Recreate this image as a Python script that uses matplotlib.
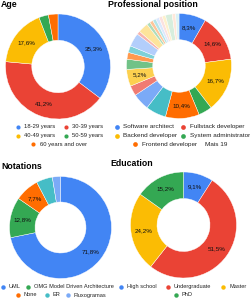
import matplotlib
matplotlib.use('Agg')
import matplotlib.pyplot as plt

plt.rcParams['font.family'] = ['Liberation Sans', 'DejaVu Sans']

# ---------------- data ----------------
age_labels = ['18-29 years', '30-39 years', '40-49 years', '50-59 years', '60 years and over']
age_counts = [12, 14, 6, 1, 1]
age_colors = ['#4285F4', '#EA4335', '#FBBC04', '#34A853', '#FF6D01']

prof_labels = ['Software architect', 'Fullstack developer', 'Backend developer',
               'System administrator', 'Frontend developer'] + [f'Outro {i}' for i in range(1, 20)]
prof_counts = [8, 14, 16, 4, 10, 6, 5, 3, 5, 3, 2, 2, 4, 1, 3, 1, 1, 1, 1, 1, 1, 2, 1, 1]
prof_colors = ['#4285F4', '#EA4335', '#FBBC04', '#34A853', '#FF6D01', '#46BDC6',
               '#7BAAF7', '#F07B72', '#FCD04F', '#71C287', '#FF994D', '#7ED1D7',
               '#B3CEFB', '#F7B4AE', '#FDE49B', '#AEDCBA', '#FFC599', '#B5E5E8',
               '#DCE8FD', '#FBE1DF', '#FEF1CD', '#D7EEDD', '#FFE8D9', '#DAF2F4']
prof_more = 'Mais 19'

not_labels = ['UML', 'OMG Model Driven Architecture', 'None', 'ER', 'Fluxogramas']
not_counts = [28, 5, 3, 2, 1]
not_colors = ['#4285F4', '#34A853', '#FF6D01', '#46BDC6', '#7BAAF7']

edu_labels = ['High school', 'Undergraduate', 'Master', 'PhD']
edu_counts = [3, 17, 8, 5]
edu_colors = ['#4285F4', '#EA4335', '#FBBC04', '#34A853']

# ---------------- figure ----------------
W, H = 250, 299
fig = plt.figure(figsize=(W / 100, H / 100), dpi=100)
ax = fig.add_axes([0, 0, 1, 1])


def donut(counts, colors, cx, cy, r, shown):
    idx = {'i': 0}

    def fmt(p):
        i = idx['i']
        idx['i'] += 1
        if i in shown:
            return f'{p:.1f}'.replace('.', ',') + '%'
        return ''

    ax.pie(counts, colors=colors, center=(cx, H - cy), radius=r,
           startangle=90, counterclock=False,
           wedgeprops=dict(width=r * 0.5, edgecolor='white', linewidth=0.3),
           autopct=fmt, pctdistance=0.76,
           textprops=dict(fontsize=4.5, color='#111111'))


def title(x, y, s):
    ax.text(x, H - y, s, fontsize=6.3, fontweight='bold', color='#000000',
            ha='left', va='baseline')


def legend_item(mx, y, tx, s, color, fs, ms):
    if color is not None:
        ax.plot([mx], [H - y], marker='o', markersize=ms, color=color,
                markeredgewidth=0, linestyle='none')
    ax.text(tx, H - y, s, fontsize=fs, color='#222222', ha='left', va='center')


donut(age_counts, age_colors, 58, 66.5, 52.5, {0, 1, 2})
donut(prof_counts, prof_colors, 179, 66, 52.5, {0, 1, 2, 4, 8})
donut(not_counts, not_colors, 60.5, 227.5, 51, {0, 1, 2})
donut(edu_counts, edu_colors, 183.5, 225, 53, {0, 1, 2, 3})

title(1, 6.8, 'Age')
title(108, 6.8, 'Professional position')
title(1.5, 169.3, 'Notations')
title(110, 166, 'Education')

# Age legend
fs_a, ms_a = 4.2, 3.0
legend_item(18.3, 126.7, 24, age_labels[0], age_colors[0], fs_a, ms_a)
legend_item(65.7, 126.7, 71.7, age_labels[1], age_colors[1], fs_a, ms_a)
legend_item(18.3, 135.7, 24, age_labels[2], age_colors[2], fs_a, ms_a)
legend_item(65.7, 135.7, 71.7, age_labels[3], age_colors[3], fs_a, ms_a)
legend_item(33.3, 144.3, 40, age_labels[4], age_colors[4], fs_a, ms_a)

# Professional legend
fs_p, ms_p = 4.6, 3.4
legend_item(117.3, 126.7, 123.3, prof_labels[0], prof_colors[0], fs_p, ms_p)
legend_item(183.3, 126.7, 190, prof_labels[1], prof_colors[1], fs_p, ms_p)
legend_item(117.3, 135.7, 123.3, prof_labels[2], prof_colors[2], fs_p, ms_p)
legend_item(183.3, 135.7, 190, prof_labels[3], prof_colors[3], fs_p, ms_p)
legend_item(135, 144.3, 141.7, prof_labels[4], prof_colors[4], fs_p, ms_p)
legend_item(None, 144.3, 205, prof_more, None, fs_p, ms_p)

# Notations legend
fs_n, ms_n = 4.1, 3.2
legend_item(2.7, 286.7, 8.3, not_labels[0], not_colors[0], fs_n, ms_n)
legend_item(28.3, 286.7, 34, not_labels[1], not_colors[1], fs_n, ms_n)
legend_item(18.3, 295, 24, not_labels[2], not_colors[2], fs_n, ms_n)
legend_item(46.7, 295, 52.7, not_labels[3], not_colors[3], fs_n, ms_n)
legend_item(68.3, 295, 74, not_labels[4], not_colors[4], fs_n, ms_n)

# Education legend
legend_item(120.7, 286.7, 126.7, edu_labels[0], edu_colors[0], fs_n, ms_n)
legend_item(168.3, 286.7, 174, edu_labels[1], edu_colors[1], fs_n, ms_n)
legend_item(223.3, 286.7, 229.3, edu_labels[2], edu_colors[2], fs_n, ms_n)
legend_item(176, 295, 181.7, edu_labels[3], edu_colors[3], fs_n, ms_n)

ax.set_xlim(0, W)
ax.set_ylim(0, H)
ax.set_aspect('auto')
ax.axis('off')

fig.savefig('out.png', dpi=100, facecolor='white')
